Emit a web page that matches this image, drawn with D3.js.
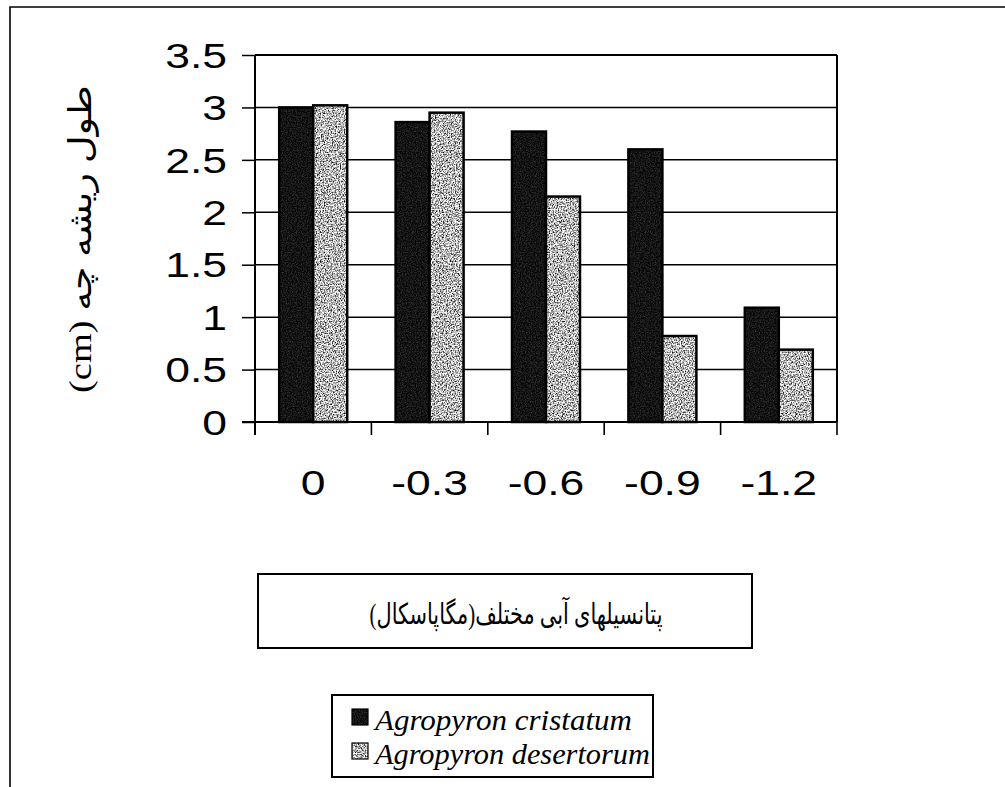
<!DOCTYPE html>
<html>
<head>
<meta charset="utf-8">
<script src="https://cdn.jsdelivr.net/npm/d3@7"></script>
<style>
  html, body { margin: 0; padding: 0; background: #fff; overflow: hidden; }
  svg { display: block; }
</style>
</head>
<body>
<svg id="chart" width="1005" height="787"></svg>
<script>
// Water potential levels (MPa) and radicle length (cm) for the two species
const categories = ["0", "-0.3", "-0.6", "-0.9", "-1.2"];
const seriesNames = ["Agropyron cristatum", "Agropyron desertorum"];
const cristatum = [3.0, 2.86, 2.77, 2.60, 1.09];
const desertorum = [3.02, 2.95, 2.15, 0.82, 0.69];
const yTicks = [0, 0.5, 1, 1.5, 2, 2.5, 3, 3.5];
const yTitle = "طول ریشه چه (cm)";
const xTitle = "پتانسیلهای آبی مختلف(مگاپاسکال)";

const svg = d3.select("#chart");
const plotLeft = 255, plotRight = 837, plotTop = 55, plotBottom = 422;
const stretch = 1.27; // wide numeral face

// Grain filters for the two bar fills
const defs = svg.append("defs");
function grain(id, gain, offset, freq, seed) {
  const f = defs.append("filter").attr("id", id)
    .attr("x", 0).attr("y", 0).attr("width", 1).attr("height", 1)
    .attr("color-interpolation-filters", "sRGB");
  f.append("feTurbulence").attr("type", "fractalNoise")
    .attr("baseFrequency", freq).attr("numOctaves", 2).attr("seed", seed).attr("result", "noise");
  f.append("feColorMatrix").attr("in", "noise").attr("type", "matrix")
    .attr("values", `${gain} 0 0 0 ${offset}  ${gain} 0 0 0 ${offset}  ${gain} 0 0 0 ${offset}  0 0 0 0 1`)
    .attr("result", "tone");
  f.append("feComposite").attr("in", "tone").attr("in2", "SourceAlpha").attr("operator", "in");
}
grain("grainDark", 0.4, -0.12, 0.8, 4);
grain("grainLight", 2.4, -0.48, 0.75, 9);

// Outer frame
svg.append("path")
  .attr("d", "M10,800 L10,7 L1010,7")
  .attr("fill", "none").attr("stroke", "#000").attr("stroke-width", 1.6);

const x = d3.scaleBand().domain(categories).range([plotLeft, plotRight]).padding(0);
const xInner = d3.scaleBand().domain(seriesNames).range([0, x.bandwidth()]).paddingInner(0).paddingOuter(0.712);
const y = d3.scaleLinear().domain([0, 3.5]).range([plotBottom, plotTop]);

// Horizontal gridlines
svg.append("g").selectAll("line")
  .data(yTicks.filter(d => d > 0))
  .join("line")
  .attr("x1", plotLeft).attr("x2", plotRight)
  .attr("y1", d => y(d)).attr("y2", d => y(d))
  .attr("stroke", "#000").attr("stroke-width", d => d === 3.5 ? 2.2 : 1.5);

// Right border of the plot area
svg.append("line")
  .attr("x1", plotRight).attr("x2", plotRight).attr("y1", plotTop).attr("y2", plotBottom)
  .attr("stroke", "#000").attr("stroke-width", 2);

// Bars
const rows = categories.map((c, i) => ({ c, vals: [cristatum[i], desertorum[i]] }));
const groups = svg.append("g").selectAll("g")
  .data(rows).join("g")
  .attr("transform", d => `translate(${x(d.c)},0)`);
const bars = groups.selectAll("g.bar")
  .data(d => d.vals.map((v, k) => ({ s: seriesNames[k], v, k })))
  .join("g").attr("class", "bar");
bars.append("rect")
  .attr("x", d => xInner(d.s)).attr("width", xInner.bandwidth())
  .attr("y", d => y(d.v)).attr("height", d => y(0) - y(d.v))
  .attr("fill", "#888")
  .attr("filter", d => d.k === 0 ? "url(#grainDark)" : "url(#grainLight)");
bars.append("rect")
  .attr("x", d => xInner(d.s)).attr("width", xInner.bandwidth())
  .attr("y", d => y(d.v)).attr("height", d => y(0) - y(d.v))
  .attr("fill", "none").attr("stroke", "#000").attr("stroke-width", 2.5);

// Y axis
const yAxis = svg.append("g").attr("transform", `translate(${plotLeft},0)`)
  .call(d3.axisLeft(y).tickValues(yTicks).tickSize(13).tickSizeOuter(0).tickFormat(d3.format("")));
yAxis.select(".domain").attr("stroke-width", 2).attr("d", `M0,${plotTop}V${plotBottom + 13}`);
yAxis.selectAll(".tick line").attr("stroke-width", 1.5);
yAxis.selectAll(".tick text")
  .attr("font-family", "Arial, 'Liberation Sans', sans-serif")
  .attr("font-size", 35).attr("fill", "#000")
  .attr("x", -28 / stretch).attr("dy", "0.35em")
  .attr("transform", `scale(${stretch},1)`);

// X axis
const xAxis = svg.append("g").attr("transform", `translate(0,${plotBottom})`)
  .call(d3.axisBottom(x).tickSize(0).tickSizeOuter(0));
xAxis.select(".domain").attr("stroke-width", 2).attr("d", `M${plotLeft - 13},0H${plotRight}`);
xAxis.selectAll(".tick text")
  .attr("font-family", "Arial, 'Liberation Sans', sans-serif")
  .attr("font-size", 35).attr("fill", "#000")
  .attr("x", 0).attr("y", 73).attr("dy", 0)
  .attr("transform", `scale(${stretch},1)`);
// Category boundary ticks
xAxis.append("g").selectAll("line")
  .data(categories.concat(["end"]))
  .join("line")
  .attr("x1", (d, i) => i < categories.length ? x(d) : plotRight)
  .attr("x2", (d, i) => i < categories.length ? x(d) : plotRight)
  .attr("y1", 0).attr("y2", 13)
  .attr("stroke", "#000").attr("stroke-width", 1.6);

// Scale factor that fits a text node to a target extent along its baseline
function fitText(sel, target) {
  const len = sel.node().getComputedTextLength();
  return target / len;
}

// Y axis title (rotated)
const yt = svg.append("text")
  .attr("font-family", "'Liberation Serif', 'DejaVu Serif', 'DejaVu Sans', serif")
  .attr("font-size", 32).attr("direction", "rtl")
  .attr("text-anchor", "middle").attr("fill", "#000")
  .text(yTitle);
const ys = fitText(yt, 308);
yt.attr("transform", `translate(91,239) rotate(-90) scale(${ys},1)`);

// X axis title box
svg.append("rect").attr("x", 258).attr("y", 574).attr("width", 494).attr("height", 74)
  .attr("fill", "none").attr("stroke", "#000").attr("stroke-width", 2);
const xt = svg.append("text")
  .attr("font-family", "'Liberation Serif', 'DejaVu Serif', 'DejaVu Sans', serif")
  .attr("font-size", 29).attr("direction", "rtl")
  .attr("text-anchor", "middle").attr("fill", "#000")
  .text(xTitle);
const xs = Math.max(fitText(xt, 262), 0.72);
xt.attr("transform", `translate(516,624) scale(${xs},1)`);

// Legend
svg.append("rect").attr("x", 332).attr("y", 695).attr("width", 321).attr("height", 82)
  .attr("fill", "none").attr("stroke", "#000").attr("stroke-width", 2);
const legendWidths = [257, 275];
const legend = svg.append("g").selectAll("g")
  .data(seriesNames).join("g")
  .attr("transform", (d, i) => `translate(352,${730 + i * 34})`);
legend.append("rect")
  .attr("x", 0).attr("y", -21).attr("width", 16).attr("height", 16)
  .attr("fill", "#888")
  .attr("filter", (d, i) => i === 0 ? "url(#grainDark)" : "url(#grainLight)");
legend.append("rect")
  .attr("x", 0).attr("y", -21).attr("width", 16).attr("height", 16)
  .attr("fill", "none").attr("stroke", "#000").attr("stroke-width", 1.2);
legend.append("text")
  .attr("font-family", "'Liberation Serif', 'Times New Roman', serif")
  .attr("font-style", "italic").attr("font-size", 30).attr("fill", "#000")
  .text(d => d)
  .each(function (d, i) {
    const t = d3.select(this);
    const k = fitText(t, legendWidths[i]);
    t.attr("transform", `translate(23,0) scale(${k},1)`);
  });
</script>
</body>
</html>
